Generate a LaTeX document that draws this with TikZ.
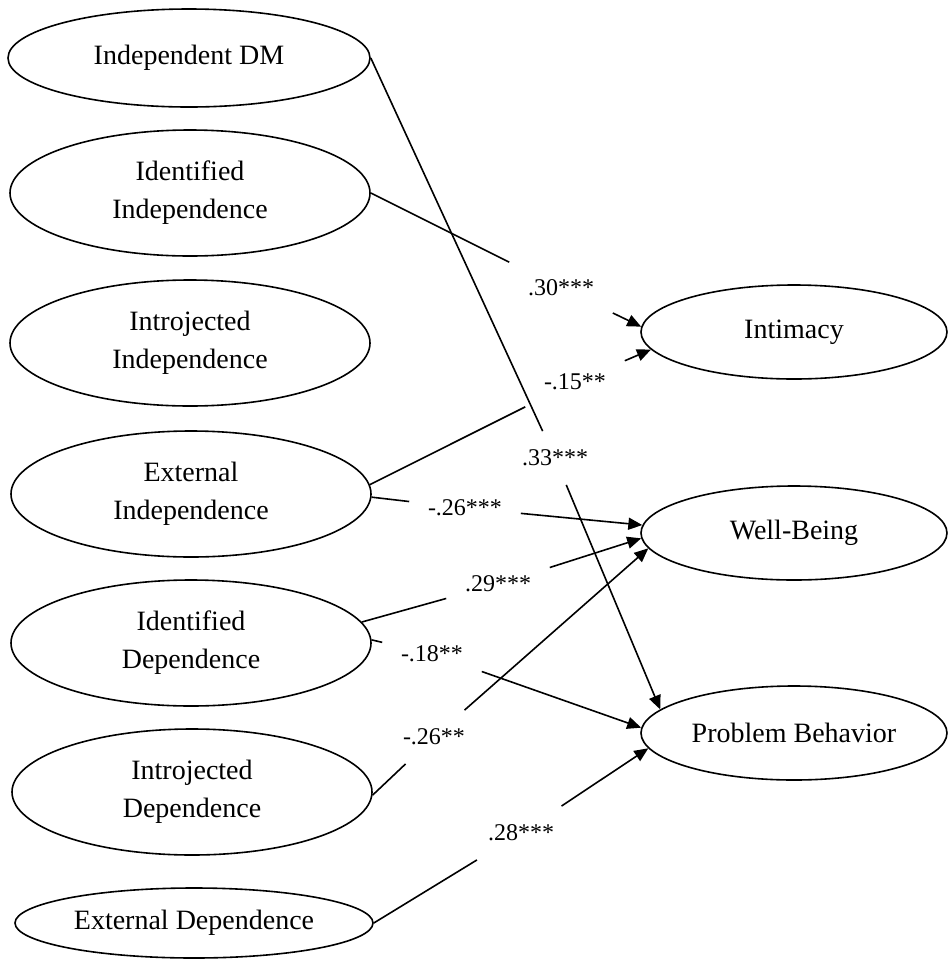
\documentclass[tikz,border=0pt]{standalone}
\usepackage{fontspec}
\setmainfont{Liberation Serif}
\usetikzlibrary{arrows.meta,shapes.geometric}

\tikzset{
	factor/.style={ellipse, draw, minimum width=180pt, minimum height=63pt, inner sep=0pt, align=center, font=\fontsize{14}{19}\selectfont},
	outcome/.style={factor, minimum width=153pt, minimum height=47pt},
	coef/.style={inner xsep=9pt, inner ysep=9pt, font=\fontsize{12}{14}\selectfont}
}

\begin{document}
\begin{tikzpicture}[x=0.5pt, y=-0.5pt, line width=0.8pt, >={Triangle[length=7pt,width=6pt]}]
		\useasboundingbox (0,0) rectangle (948,960);
		% predictors
		\node[factor, minimum width=181pt, minimum height=49pt] (idm) at (189,58) {Independent DM};
		\node[factor] (idind) at (190,193) {Identified\\Independence};
		\node[factor] (intind) at (190,343) {Introjected\\Independence};
		\node[factor] (extind) at (191,494) {External\\Independence};
		\node[factor] (iddep) at (191,643) {Identified\\Dependence};
		\node[factor] (intdep) at (192,792) {Introjected\\Dependence};
		\node[factor, minimum width=179pt, minimum height=35pt] (extdep) at (194,923) {External Dependence};
		
		% outcomes
		\node[outcome] (intim) at (794,332) {Intimacy};
		\node[outcome] (wellb) at (794,533) {Well-Being};
		\node[outcome] (probb) at (794,733) {Problem Behavior};
		
		% coefficients
		\node[coef] (l33) at (555,458) {.33***};
		\node[coef] (l30) at (561,288) {.30***};
		\node[coef] (l15) at (575,382) {-.15**};
		\node[coef] (l26a) at (465,508) {-.26***};
		\node[coef] (l29) at (498,584) {.29***};
		\node[coef] (l18) at (432,654) {-.18**};
		\node[coef] (l26b) at (434,737) {-.26**};
		\node[coef] (l28) at (521,833) {.28***};
		
		\draw (idm.east) edge[] (l33);
		\draw (l33) edge[->] (probb.170);
		\draw (idind.east) edge[] (l30);
		\draw (l30) edge[->] (intim.178.5);
		\draw (extind.3) edge[] (l15);
		\draw (l15) edge[->] (intim.187);
		\draw (extind.-1) edge[] (l26a);
		\draw (l26a) edge[->] (wellb.177);
		\draw (iddep.7) edge[] (l29);
		\draw (l29) edge[->] (wellb.182);
		\draw (iddep.1) edge[] (l18);
		\draw (l18) edge[->] (probb.178);
		\draw (intdep.-1) edge[] (l26b);
		\draw (l26b) edge[->] (wellb.186.5);
		\draw (extdep.east) edge[] (l28);
		\draw (l28) edge[->] (probb.186);
	\end{tikzpicture}
\end{document}
